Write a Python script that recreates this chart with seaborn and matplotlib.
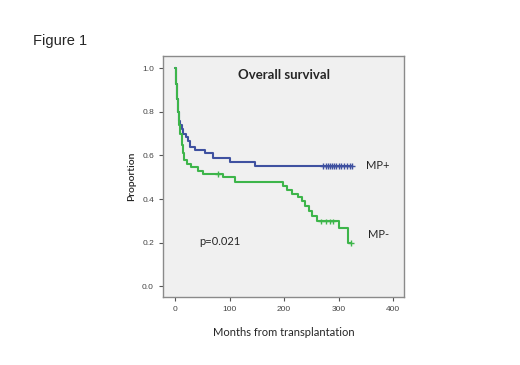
import matplotlib
matplotlib.use("Agg")
import matplotlib.pyplot as plt
import seaborn as sns
import pandas as pd

# Data
mp_plus_time = [0, 1, 2, 3, 4, 5, 6, 7, 8, 10, 12, 15, 20, 24, 28, 37, 55, 70, 101, 147, 325]
mp_plus_surv = [1.0, 0.97, 0.93, 0.90, 0.86, 0.83, 0.80, 0.78, 0.76, 0.74, 0.72, 0.70, 0.685, 0.665, 0.64, 0.627, 0.61, 0.59, 0.568, 0.55, 0.55]
mp_plus_censor = [272, 276, 280, 284, 288, 292, 296, 300, 305, 310, 316, 320, 325]

mp_minus_time = [0, 1, 2, 3, 4, 5, 6, 7, 8, 10, 12, 14, 16, 22, 30, 42, 51, 88, 110, 198, 205, 215, 225, 232, 238, 245, 252, 260, 300, 318, 322]
mp_minus_surv = [1.0, 0.97, 0.93, 0.90, 0.86, 0.83, 0.80, 0.77, 0.74, 0.70, 0.65, 0.61, 0.58, 0.56, 0.545, 0.527, 0.515, 0.50, 0.478, 0.458, 0.44, 0.425, 0.41, 0.39, 0.366, 0.343, 0.32, 0.297, 0.268, 0.20, 0.20]
mp_minus_censor_t = [79, 268, 276, 284, 290, 322]

x_ticks = [0, 100, 200, 300, 400]
y_ticks = [0.0, 0.2, 0.4, 0.6, 0.8, 1.0]

def surv_at(times, survs, t):
    s = survs[0]
    for ti, si in zip(times, survs):
        if ti <= t:
            s = si
    return s

curves = pd.DataFrame({
    "time": mp_plus_time + mp_minus_time,
    "surv": mp_plus_surv + mp_minus_surv,
    "group": ["MP+"] * len(mp_plus_time) + ["MP-"] * len(mp_minus_time),
})
censors = pd.DataFrame({
    "time": mp_plus_censor + mp_minus_censor_t,
    "surv": [surv_at(mp_plus_time, mp_plus_surv, t) for t in mp_plus_censor]
            + [surv_at(mp_minus_time, mp_minus_surv, t) for t in mp_minus_censor_t],
    "group": ["MP+"] * len(mp_plus_censor) + ["MP-"] * len(mp_minus_censor_t),
})

palette = {"MP+": "#3f51a0", "MP-": "#3db54a"}

sns.set_style("white")
plt.rcParams["font.family"] = ["Liberation Sans", "DejaVu Sans"]

fig = plt.figure(figsize=(5.2, 3.65), dpi=100)
ax = fig.add_axes([0.3135, 0.1863, 0.4635, 0.6603])
ax.set_facecolor("#f0f0f0")

sns.lineplot(data=curves, x="time", y="surv", hue="group", palette=palette,
             drawstyle="steps-post", linewidth=1.5, legend=False, ax=ax,
             estimator=None, sort=False)
sns.scatterplot(data=censors, x="time", y="surv", hue="group", palette=palette,
                marker="+", s=18, linewidth=1.0, legend=False, ax=ax, zorder=3)

ax.set_xlim(-22, 420)
ax.set_ylim(-0.05, 1.057)
ax.set_xticks(x_ticks)
ax.set_yticks(y_ticks)
ax.set_xticklabels([str(v) for v in x_ticks])
ax.set_yticklabels([f"{v:.1f}" for v in y_ticks])
ax.tick_params(axis="both", which="both", direction="out", length=3, width=0.8,
               colors="#555555", labelsize=6, labelcolor="#444444",
               bottom=True, left=True)
for sp in ax.spines.values():
    sp.set_color("#8a8a8a")
    sp.set_linewidth(1.0)
    sp.set_visible(True)

ax.set_xlabel("Months from transplantation", fontsize=8, family=["Lato", "DejaVu Sans"], labelpad=10)
ax.set_ylabel("Proportion", fontsize=7.5, family=["Lato", "DejaVu Sans"], labelpad=4,
              fontweight="semibold")

ax.text(0.5, 0.92, "Overall survival", transform=ax.transAxes, ha="center", va="center",
        fontsize=9.5, fontweight="bold", family=["Lato", "DejaVu Sans"])
ax.text(350, 0.555, "MP+", ha="left", va="center", fontsize=8, family=["Lato", "DejaVu Sans"])
ax.text(354, 0.235, "MP-", ha="left", va="center", fontsize=8, family=["Lato", "DejaVu Sans"])
ax.text(44, 0.205, "p=0.021", ha="left", va="center", fontsize=8, family=["Lato", "DejaVu Sans"])

fig.text(33 / 520, 1 - 41 / 365, "Figure 1", ha="left", va="center", fontsize=10.5)

fig.savefig("out.png", dpi=100)
